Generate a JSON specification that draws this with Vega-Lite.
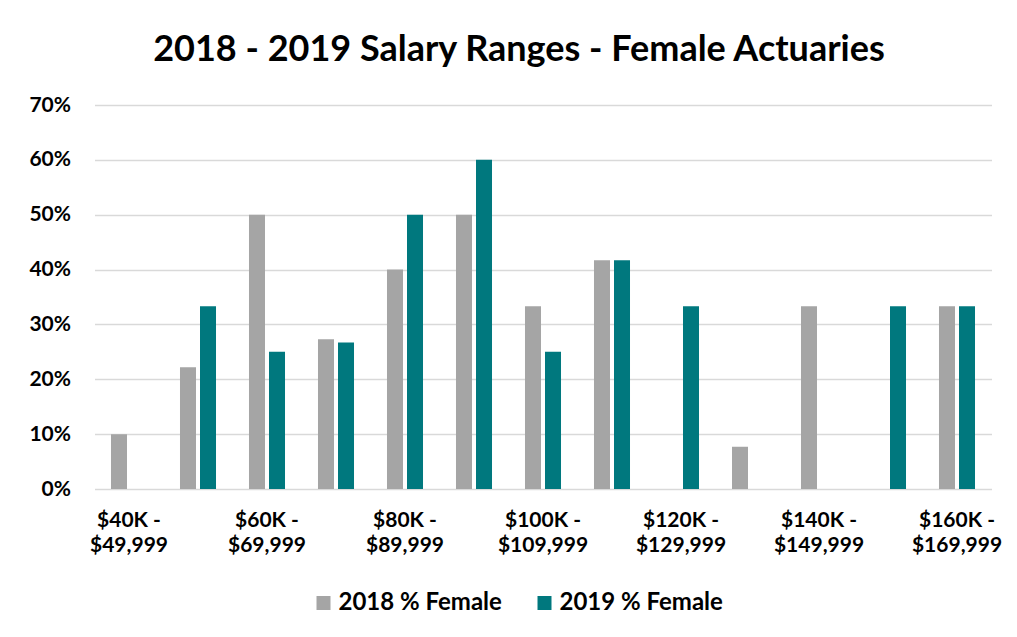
{
  "$schema": "https://vega.github.io/schema/vega-lite/v6.json",
  "autosize": "none",
  "width": 897,
  "height": 384,
  "padding": {"left": 94.5, "top": 105, "right": 25.5, "bottom": 148},
  "background": "white",
  "title": {
    "text": "2018 - 2019 Salary Ranges - Female Actuaries",
    "font": "Lato",
    "fontSize": 36,
    "fontWeight": "bold",
    "color": "#000000",
    "anchor": "middle",
    "dx": -24,
    "offset": 25
  },
  "data": {
    "values": [
      {"range": "$40K - $49,999", "year": "2018 % Female", "pct": 0.100},
      {"range": "$50K - $59,999", "year": "2018 % Female", "pct": 0.222},
      {"range": "$50K - $59,999", "year": "2019 % Female", "pct": 0.333},
      {"range": "$60K - $69,999", "year": "2018 % Female", "pct": 0.500},
      {"range": "$60K - $69,999", "year": "2019 % Female", "pct": 0.250},
      {"range": "$70K - $79,999", "year": "2018 % Female", "pct": 0.273},
      {"range": "$70K - $79,999", "year": "2019 % Female", "pct": 0.267},
      {"range": "$80K - $89,999", "year": "2018 % Female", "pct": 0.400},
      {"range": "$80K - $89,999", "year": "2019 % Female", "pct": 0.500},
      {"range": "$90K - $99,999", "year": "2018 % Female", "pct": 0.500},
      {"range": "$90K - $99,999", "year": "2019 % Female", "pct": 0.600},
      {"range": "$100K - $109,999", "year": "2018 % Female", "pct": 0.333},
      {"range": "$100K - $109,999", "year": "2019 % Female", "pct": 0.250},
      {"range": "$110K - $119,999", "year": "2018 % Female", "pct": 0.417},
      {"range": "$110K - $119,999", "year": "2019 % Female", "pct": 0.417},
      {"range": "$120K - $129,999", "year": "2019 % Female", "pct": 0.333},
      {"range": "$130K - $139,999", "year": "2018 % Female", "pct": 0.077},
      {"range": "$140K - $149,999", "year": "2018 % Female", "pct": 0.333},
      {"range": "$150K - $159,999", "year": "2019 % Female", "pct": 0.333},
      {"range": "$160K - $169,999", "year": "2018 % Female", "pct": 0.333},
      {"range": "$160K - $169,999", "year": "2019 % Female", "pct": 0.333}
    ]
  },
  "mark": {"type": "bar"},
  "encoding": {
    "x": {
      "field": "range",
      "type": "nominal",
      "sort": ["$40K - $49,999", "$50K - $59,999", "$60K - $69,999", "$70K - $79,999", "$80K - $89,999", "$90K - $99,999", "$100K - $109,999", "$110K - $119,999", "$120K - $129,999", "$130K - $139,999", "$140K - $149,999", "$150K - $159,999", "$160K - $169,999"],
      "scale": {"paddingInner": 0.478, "paddingOuter": 0.239},
      "axis": {
        "title": null,
        "labelAngle": 0,
        "domain": false,
        "ticks": false,
        "labelFont": "Lato",
        "labelFontSize": 21,
        "labelFontWeight": "bold",
        "labelColor": "#000000",
        "labelPadding": 20,
        "labelBaseline": "top",
        "labelLineHeight": 25,
        "labelOverlap": false,
        "labelExpr": "indexof(['$40K - $49,999', '$60K - $69,999', '$80K - $89,999', '$100K - $109,999', '$120K - $129,999', '$140K - $149,999', '$160K - $169,999'], datum.value) >= 0 ? [split(datum.value, ' - ')[0] + ' -', split(datum.value, ' - ')[1]] : ''"
      }
    },
    "xOffset": {
      "field": "year",
      "type": "nominal",
      "scale": {"paddingInner": 0.2, "paddingOuter": 0}
    },
    "y": {
      "field": "pct",
      "type": "quantitative",
      "scale": {"domain": [0, 0.7], "nice": false},
      "axis": {
        "title": null,
        "format": ".0%",
        "values": [0, 0.1, 0.2, 0.3, 0.4, 0.5, 0.6, 0.7],
        "domain": false,
        "ticks": false,
        "labelFont": "Lato",
        "labelFontSize": 21,
        "labelFontWeight": "bold",
        "labelColor": "#000000",
        "labelPadding": 24,
        "gridColor": "#D9D9D9",
        "gridWidth": 1.5
      }
    },
    "color": {
      "field": "year",
      "type": "nominal",
      "scale": {"domain": ["2018 % Female", "2019 % Female"], "range": ["#A5A5A5", "#00787E"]},
      "legend": {
        "title": null,
        "orient": "none",
        "direction": "horizontal",
        "legendX": 217,
        "legendY": 486,
        "symbolType": "square",
        "symbolSize": 196,
        "symbolStrokeWidth": 0,
        "labelFont": "Lato",
        "labelFontSize": 24,
        "labelFontWeight": "bold",
        "labelColor": "#000000",
        "labelOffset": 3,
        "labelLimit": 300,
        "columnPadding": 30
      }
    }
  },
  "config": {
    "view": {"stroke": null}
  }
}
